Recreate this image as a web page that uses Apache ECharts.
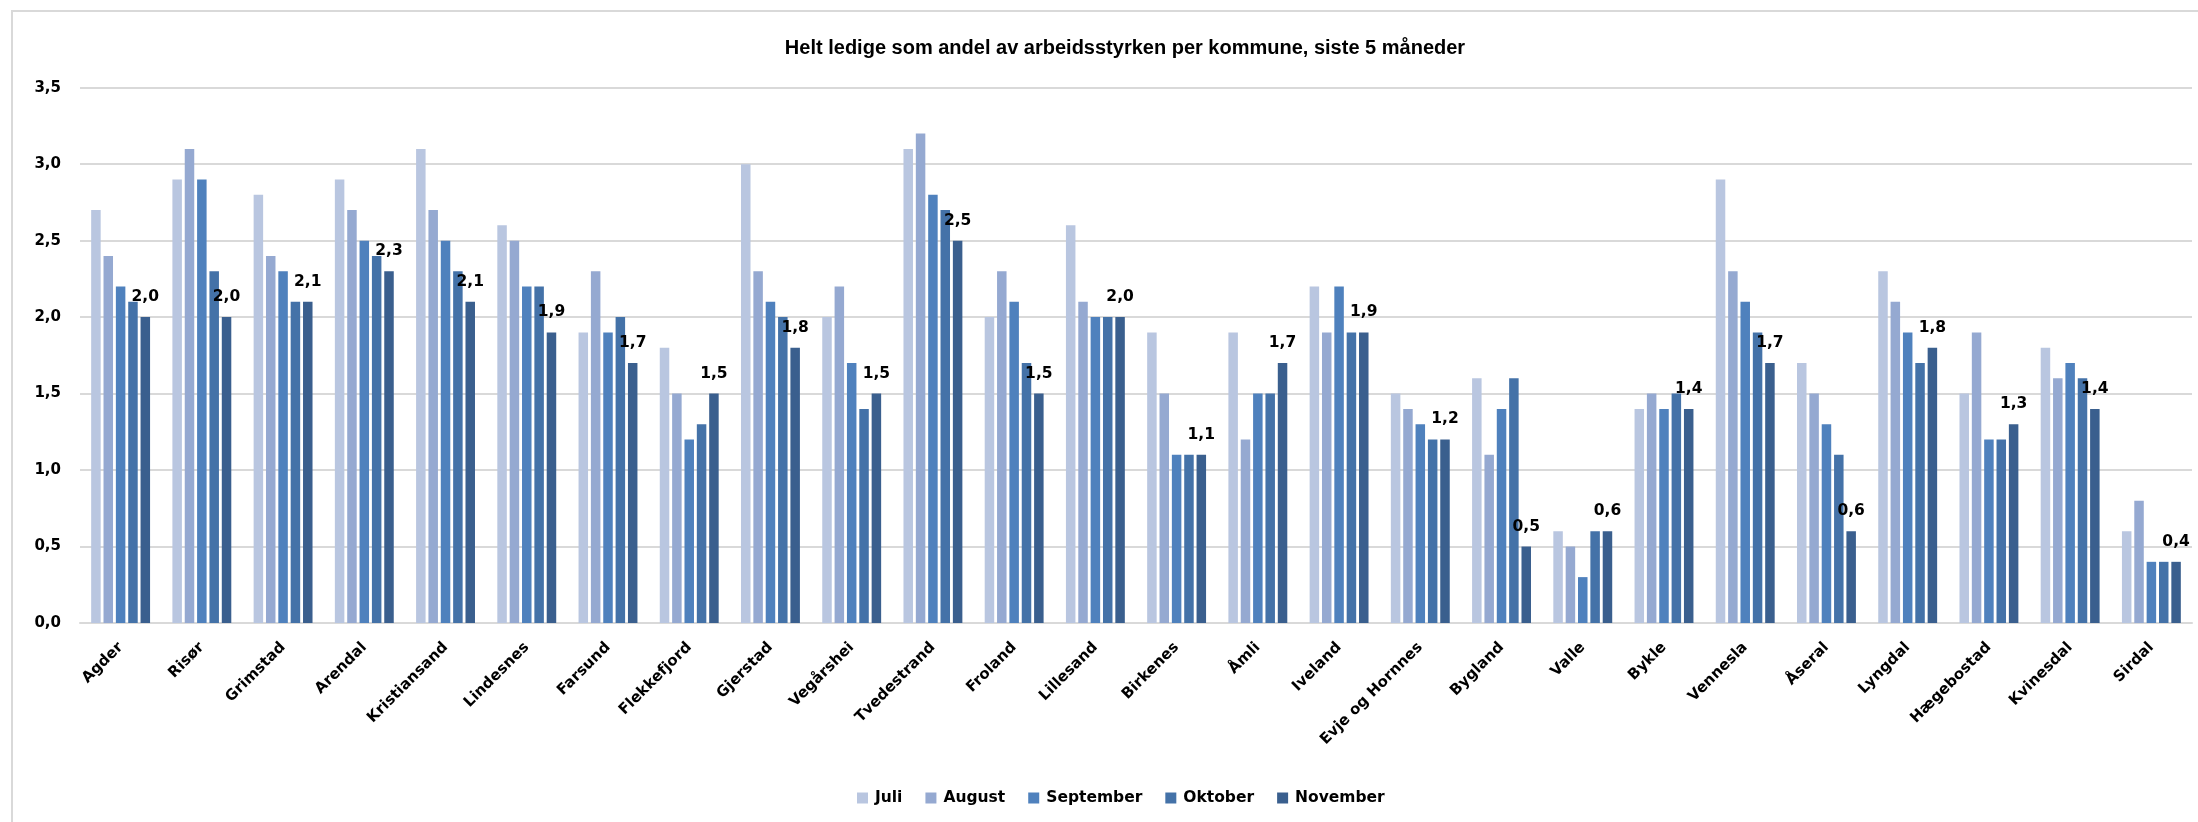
<!DOCTYPE html>
<html>
<head>
<meta charset="utf-8">
<title>Helt ledige per kommune</title>
<script src="https://cdn.jsdelivr.net/npm/echarts@6/dist/echarts.min.js"></script>
<style>
    html, body { margin: 0; padding: 0; background: #fff; }
    #chart { width: 2198px; height: 822px; }
</style>
</head>
<body>
<div id="chart"></div>
<script>
    // kommuner
    const kommuner = ['Agder', 'Risør', 'Grimstad', 'Arendal', 'Kristiansand', 'Lindesnes', 'Farsund',
        'Flekkefjord', 'Gjerstad', 'Vegårshei', 'Tvedestrand', 'Froland', 'Lillesand', 'Birkenes', 'Åmli',
        'Iveland', 'Evje og Hornnes', 'Bygland', 'Valle', 'Bykle', 'Vennesla', 'Åseral', 'Lyngdal',
        'Hægebostad', 'Kvinesdal', 'Sirdal'];

    const maaneder = ['Juli', 'August', 'September', 'Oktober', 'November'];

    const juli = [2.7, 2.9, 2.8, 2.9, 3.1, 2.6, 1.9, 1.8, 3.0, 2.0, 3.1, 2.0, 2.6, 1.9, 1.9, 2.2, 1.5, 1.6, 0.6, 1.4, 2.9, 1.7, 2.3, 1.5, 1.8, 0.6];
    const august = [2.4, 3.1, 2.4, 2.7, 2.7, 2.5, 2.3, 1.5, 2.3, 2.2, 3.2, 2.3, 2.1, 1.5, 1.2, 1.9, 1.4, 1.1, 0.5, 1.5, 2.3, 1.5, 2.1, 1.9, 1.6, 0.8];
    const september = [2.2, 2.9, 2.3, 2.5, 2.5, 2.2, 1.9, 1.2, 2.1, 1.7, 2.8, 2.1, 2.0, 1.1, 1.5, 2.2, 1.3, 1.4, 0.3, 1.4, 2.1, 1.3, 1.9, 1.2, 1.7, 0.4];
    const oktober = [2.1, 2.3, 2.1, 2.4, 2.3, 2.2, 2.0, 1.3, 2.0, 1.4, 2.7, 1.7, 2.0, 1.1, 1.5, 1.9, 1.2, 1.6, 0.6, 1.5, 1.9, 1.1, 1.7, 1.2, 1.6, 0.4];
    const november = [2.0, 2.0, 2.1, 2.3, 2.1, 1.9, 1.7, 1.5, 1.8, 1.5, 2.5, 1.5, 2.0, 1.1, 1.7, 1.9, 1.2, 0.5, 0.6, 1.4, 1.7, 0.6, 1.8, 1.3, 1.4, 0.4];

    const yTicks = [0, 0.5, 1.0, 1.5, 2.0, 2.5, 3.0, 3.5];

    const farger = ['#B9C6E0', '#95A9D1', '#4F81BD', '#4472A8', '#3A5F8E'];
    const verdier = [juli, august, september, oktober, november];

    const font = 'DejaVu Sans';
    const komma = v => Number(v).toFixed(1).replace('.', ',');

    let chartDom = document.getElementById('chart');
    let myChart = echarts.init(chartDom);

    let series = maaneder.map((navn, i) => ({
        name: navn,
        type: 'bar',
        data: verdier[i],
        barWidth: 9.5,
        barGap: '30%',
        itemStyle: { color: farger[i] },
        label: {
            show: i === maaneder.length - 1,
            position: 'top',
            distance: 12,
            formatter: p => komma(p.value),
            fontFamily: font,
            fontWeight: 'bold',
            fontSize: 15.5,
            color: '#000'
        }
    }));

    let option = {
        animation: false,
        backgroundColor: '#fff',
        graphic: [{
            type: 'rect',
            shape: { x: 12, y: 11, width: 2400, height: 1000 },
            style: { fill: 'none', stroke: '#D9D9D9', lineWidth: 2 },
            silent: true
        }],
        title: {
            text: 'Helt ledige som andel av arbeidsstyrken per kommune, siste 5 måneder',
            left: 1120,
            top: 33,
            textAlign: 'center',
            textStyle: {
                fontFamily: 'Liberation Sans',
                fontWeight: 'bold',
                fontSize: 20,
                color: '#000'
            }
        },
        legend: {
            data: maaneder,
            left: 852,
            top: 785,
            itemWidth: 11,
            itemHeight: 11,
            itemGap: 23,
            icon: 'rect',
            textStyle: {
                fontFamily: font,
                fontWeight: 'bold',
                fontSize: 15.5,
                color: '#000',
                padding: [0, 0, 0, 2]
            }
        },
        grid: {
            left: 80,
            right: 6,
            top: 87.7,
            bottom: 199
        },
        xAxis: {
            type: 'category',
            data: kommuner,
            axisTick: { show: false },
            axisLine: { lineStyle: { color: '#D9D9D9', width: 2 } },
            axisLabel: {
                rotate: 45,
                interval: 0,
                margin: 22,
                fontFamily: font,
                fontWeight: 'bold',
                fontSize: 15,
                color: '#000'
            }
        },
        yAxis: {
            type: 'value',
            min: yTicks[0],
            max: yTicks[yTicks.length - 1],
            interval: 0.5,
            axisLine: { show: false },
            axisTick: { show: false },
            splitLine: { lineStyle: { color: '#D9D9D9', width: 2 } },
            axisLabel: {
                margin: 19,
                formatter: v => komma(v),
                fontFamily: font,
                fontWeight: 'bold',
                fontSize: 15,
                color: '#000'
            }
        },
        series: series
    };

    myChart.setOption(option);
</script>
</body>
</html>
